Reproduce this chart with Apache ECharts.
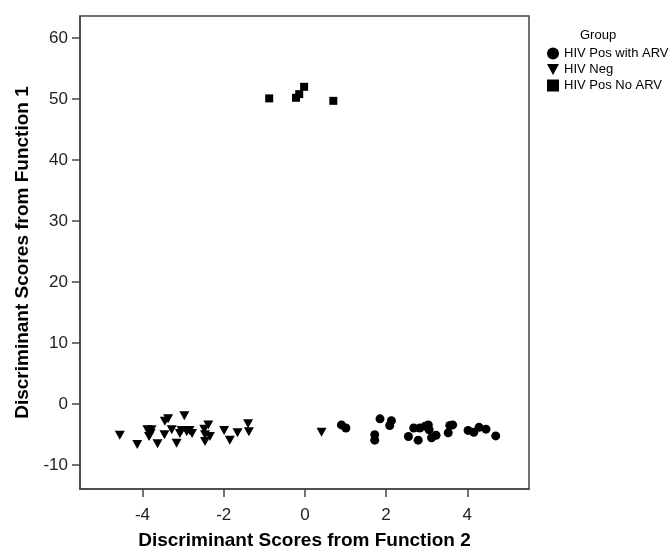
<!DOCTYPE html>
<html>
<head>
<meta charset="utf-8">
<script src="https://cdn.jsdelivr.net/npm/echarts@6/dist/echarts.min.js"></script>
<style>
  html, body { margin: 0; padding: 0; background: #fff; }
  #chart { width: 669px; height: 555px; }
</style>
</head>
<body>
<div id="chart"></div>
<script>
// groups
var groupNames = ['HIV Pos with ARV', 'HIV Neg', 'HIV Pos No ARV']

// [function 2 score, function 1 score]
var posWithArv = [
  [0.90, -3.4], [1.01, -3.9], [1.85, -2.4], [1.72, -5.0], [1.72, -5.9],
  [2.13, -2.7], [2.09, -3.5], [2.55, -5.3], [2.68, -3.9], [2.79, -5.9],
  [2.83, -3.9], [2.96, -3.6], [3.04, -3.4], [3.06, -4.2], [3.12, -5.5],
  [3.23, -5.1], [3.53, -4.7], [3.57, -3.5], [3.64, -3.4], [4.02, -4.3],
  [4.16, -4.6], [4.29, -3.8], [4.46, -4.1], [4.70, -5.2]
]
var hivNeg = [
  [-4.56, -5.1], [-4.13, -6.6], [-3.88, -4.2], [-3.78, -4.2], [-3.84, -5.3],
  [-3.80, -4.8], [-3.63, -6.5], [-3.46, -5.0], [-3.45, -2.8], [-3.37, -2.4],
  [-3.28, -4.2], [-3.16, -6.4], [-3.08, -4.8], [-3.04, -4.3], [-2.97, -1.9],
  [-2.91, -4.5], [-2.84, -4.3], [-2.78, -4.8], [-2.48, -4.1], [-2.46, -5.0],
  [-2.46, -6.1], [-2.38, -3.4], [-2.34, -5.3], [-1.99, -4.3], [-1.85, -5.9],
  [-1.66, -4.7], [-1.40, -3.2], [-1.38, -4.5], [0.41, -4.6]
]
var posNoArv = [
  [-0.88, 50.1], [-0.22, 50.2], [-0.14, 50.8], [-0.02, 52.0], [0.70, 49.7]
]

var xTicks = [-4, -2, 0, 2, 4]
var yTicks = [-10, 0, 10, 20, 30, 40, 50, 60]

var FONT = 'Liberation Sans, Arial, sans-serif'
var downTri = 'path://M0,0 L10,0 L5,9 Z'

var myChart = echarts.init(document.getElementById('chart'))
myChart.setOption({
  animation: false,
  grid: {
    left: 80, top: 16, right: 140, bottom: 64,
    show: true, borderColor: '#444', borderWidth: 1.5
  },
  graphic: [{
    type: 'text', left: 580, top: 29,
    style: { text: 'Group', font: '13px ' + FONT, fill: '#000' }
  }],
  legend: {
    orient: 'vertical',
    left: 542, top: 42,
    itemWidth: 12, itemHeight: 12, itemGap: 3,
    textStyle: { fontFamily: FONT, fontSize: 13, color: '#000', lineHeight: 12 },
    data: groupNames
  },
  xAxis: {
    type: 'value',
    min: -5.54, max: 5.52,
    name: 'Discriminant Scores from Function 2',
    nameLocation: 'middle', nameGap: 42,
    nameTextStyle: { fontFamily: FONT, fontSize: 19, fontWeight: 'bold', color: '#000' },
    axisLine: { onZero: false, lineStyle: { color: '#444', width: 1.5 } },
    axisTick: { inside: false, length: 8, lineStyle: { color: '#444', width: 1.5 }, customValues: xTicks },
    axisLabel: { margin: 18, fontFamily: FONT, fontSize: 17, color: '#222', customValues: xTicks },
    splitLine: { show: false }
  },
  yAxis: {
    type: 'value',
    min: -13.9, max: 63.6,
    name: 'Discriminant Scores from Function 1',
    nameLocation: 'middle', nameGap: 47,
    nameTextStyle: { fontFamily: FONT, fontSize: 19, fontWeight: 'bold', color: '#000' },
    axisLine: { onZero: false, lineStyle: { color: '#444', width: 1.5 } },
    axisTick: { inside: false, length: 8, lineStyle: { color: '#444', width: 1.5 }, customValues: yTicks },
    axisLabel: { margin: 12, fontFamily: FONT, fontSize: 17, color: '#222', customValues: yTicks },
    splitLine: { show: false }
  },
  series: [{
    name: groupNames[0], type: 'scatter',
    symbol: 'circle', symbolSize: 9,
    itemStyle: { color: '#000', opacity: 1 },
    data: posWithArv
  }, {
    name: groupNames[1], type: 'scatter',
    symbol: downTri, symbolSize: [10, 9],
    itemStyle: { color: '#000', opacity: 1 },
    data: hivNeg
  }, {
    name: groupNames[2], type: 'scatter',
    symbol: 'rect', symbolSize: 8,
    itemStyle: { color: '#000', opacity: 1 },
    data: posNoArv
  }]
})
</script>
</body>
</html>
